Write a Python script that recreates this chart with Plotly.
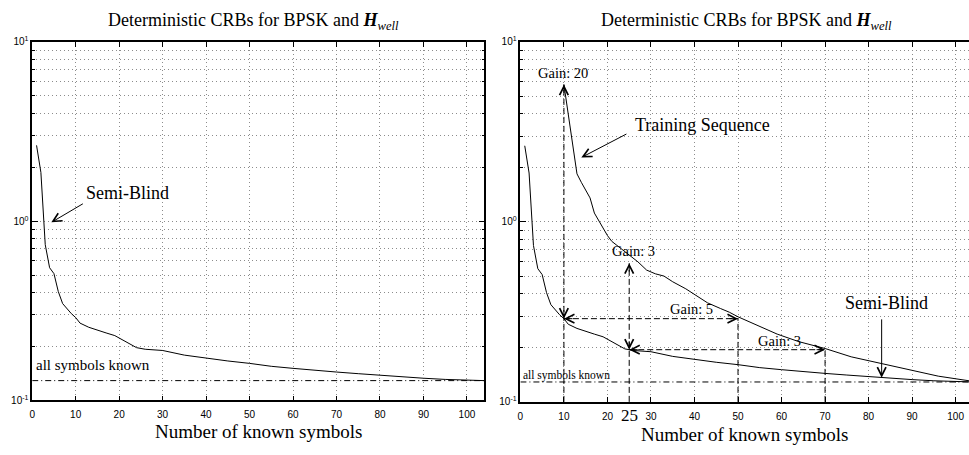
import numpy as np
import plotly.graph_objects as go

# Deterministic CRB, semi-blind estimation, vs number of known symbols
sb_x = [1, 2, 3, 4, 5, 6, 7, 8, 9, 10, 11, 13, 15, 17, 19, 21, 24, 26, 30, 35,
        40, 45, 50, 55, 60, 65, 70, 75, 80, 85, 90, 95, 100, 104]
sb_y = [2.65, 1.87, 0.74, 0.55, 0.51, 0.405, 0.347, 0.325, 0.305, 0.29,
        0.27, 0.256, 0.246, 0.238, 0.23, 0.217, 0.197, 0.193, 0.19, 0.179,
        0.172, 0.166, 0.161, 0.155, 0.151, 0.147, 0.144, 0.141, 0.138, 0.135,
        0.133, 0.131, 0.130, 0.129]

# Deterministic CRB, training sequence only
ts_x = [10, 11, 12, 13, 14, 15, 16, 17, 18, 20, 21, 23, 25, 27, 29, 31, 33, 35,
        38, 40, 43, 46, 48, 50, 54, 59, 64, 70, 76, 83, 90, 96, 104]
ts_y = [5.8, 3.9, 2.6, 1.85, 1.66, 1.5, 1.36, 1.12, 1.02, 0.84,
        0.78, 0.715, 0.65, 0.6, 0.54, 0.515, 0.5, 0.465, 0.425, 0.395,
        0.355, 0.33, 0.315, 0.297, 0.27, 0.238, 0.216, 0.198, 0.178, 0.163,
        0.149, 0.139, 0.13]

# CRB when all symbols are known
all_known = 0.129

x_ticks = [0, 10, 20, 30, 40, 50, 60, 70, 80, 90, 100]
y_ticks = [0.1, 1, 10]
y_ticktext = ["10<sup>-1</sup>", "10<sup>0</sup>", "10<sup>1</sup>"]
y_minor = [m * d for d in (0.1, 1) for m in range(2, 10)]

# gain comparison points
gain20_at = 10
gain5_to = 50
gain3_at = 25
gain3_to = 70
gain3_top = 0.59

W, H = 969, 455
GRID = "#8c8c8c"
GRID_DASH = "1px,3px"
SERIF = "Liberation Serif"
SANS = "Liberation Sans"


def sb(x):
    return float(np.interp(x, sb_x, sb_y))


def ts(x):
    return float(np.interp(x, ts_x, ts_y))


def xaxis(domain, rng):
    return dict(domain=domain, range=rng, showline=True, linecolor="black",
                linewidth=1.5, mirror="allticks", ticks="inside", ticklen=5,
                tickwidth=1, tickcolor="black", tickvals=x_ticks,
                showgrid=True, gridcolor=GRID, griddash=GRID_DASH, gridwidth=1,
                zeroline=False, ticklabelstandoff=4,
                tickfont=dict(family=SANS, size=10, color="black"))


def yaxis(domain, mirror):
    return dict(type="log", domain=domain, range=[-1, 1], showline=True,
                linecolor="black", linewidth=1.5, mirror=mirror,
                ticks="inside", ticklen=6, tickwidth=1, tickcolor="black",
                tickvals=y_ticks, ticktext=y_ticktext,
                showgrid=True, gridcolor=GRID, griddash=GRID_DASH, gridwidth=1,
                minor=dict(tickvals=y_minor, ticks="inside", ticklen=3,
                           tickwidth=1, tickcolor="black", showgrid=True,
                           gridcolor=GRID, griddash=GRID_DASH, gridwidth=1),
                zeroline=False,
                tickfont=dict(family=SANS, size=10, color="black"))


fig = go.Figure()

line = dict(color="black", width=1)
dash = dict(color="black", width=1, dash="6px,3px")
dashdot = dict(color="black", width=1, dash="6px,3px,1px,3px")

# left panel
fig.add_trace(go.Scatter(x=sb_x, y=sb_y, mode="lines", line=line,
                         xaxis="x", yaxis="y"))
fig.add_trace(go.Scatter(x=[0, 104], y=[all_known, all_known], mode="lines",
                         line=dashdot, xaxis="x", yaxis="y"))

# right panel
fig.add_trace(go.Scatter(x=sb_x, y=sb_y, mode="lines", line=line,
                         xaxis="x2", yaxis="y2"))
fig.add_trace(go.Scatter(x=ts_x, y=ts_y, mode="lines", line=line,
                         xaxis="x2", yaxis="y2"))
fig.add_trace(go.Scatter(x=[0, 104], y=[all_known, all_known], mode="lines",
                         line=dashdot, xaxis="x2", yaxis="y2"))

# dashed guide lines for the gain comparisons
guides = [
    ([gain20_at, gain20_at], [0.1, ts(gain20_at)]),
    ([gain3_at, gain3_at], [0.1, gain3_top]),
    ([gain5_to, gain5_to], [0.1, sb(gain20_at)]),
    ([gain3_to, gain3_to], [0.1, sb(gain3_at)]),
    ([gain20_at, gain5_to], [sb(gain20_at), sb(gain20_at)]),
    ([gain3_at, gain3_to], [sb(gain3_at), sb(gain3_at)]),
]
for gx, gy in guides:
    fig.add_trace(go.Scatter(x=gx, y=gy, mode="lines", line=dash,
                             xaxis="x2", yaxis="y2"))

ann = []


def head(x, y, dx, dy):
    ann.append(dict(xref="x2", yref="y2", x=x, y=np.log10(y), ax=dx, ay=dy,
                    axref="pixel", ayref="pixel", text="", showarrow=True,
                    arrowhead=5, arrowsize=1.7, arrowwidth=1,
                    arrowcolor="black", standoff=0))


def pointer(xr, yr, tail, tip):
    ann.append(dict(xref=xr, yref=yr, x=tip[0], y=np.log10(tip[1]),
                    ax=tail[0], ay=np.log10(tail[1]), axref=xr, ayref=yr,
                    text="", showarrow=True, arrowhead=5, arrowsize=1.7,
                    arrowwidth=1, arrowcolor="black", standoff=0))


def label(xr, yr, x, y, text, size, xanchor="center"):
    ann.append(dict(xref=xr, yref=yr, x=x, y=y, text=text, showarrow=False,
                    xanchor=xanchor, yanchor="middle",
                    font=dict(family=SERIF, size=size, color="black")))


# arrow heads on the gain markers
sb10 = sb(gain20_at)
sb25 = sb(gain3_at)
head(gain20_at, ts(gain20_at), 0, 10)
head(gain20_at, sb10, 0, -10)
head(gain20_at, sb10, 10, 0)
head(gain5_to, sb10, -10, 0)
head(gain3_at, sb25, 10, 0)
head(gain3_to, sb25, -10, 0)
head(gain3_at, gain3_top, 0, 10)
head(gain3_at, sb25, 0, -10)

# curve pointers
pointer("x", "y", (12.0, 1.265), (4.4, 0.985))
pointer("x2", "y2", (24.7, 3.11), (14.0, 2.28))
pointer("x2", "y2", (83, 0.293), (83, sb(83)))

# curve and gain labels
label("x", "y", 12.0, 0.156, "Semi-Blind", 18, "left")
label("x", "y", 0.5, -0.805, "all symbols known", 15, "left")
label("x2", "y2", 25.8, 0.541, "Training Sequence", 18, "left")
label("x2", "y2", 84.2, -0.452, "Semi-Blind", 18)
label("x2", "y2", 9.8, 0.826, "Gain: 20", 14.5)
label("x2", "y2", 25.9, -0.161, "Gain: 3", 14.5)
label("x2", "y2", 39.4, -0.484, "Gain: 5", 14.5)
label("x2", "y2", 59.6, -0.663, "Gain: 3", 14.5)
label("x2", "y2", 0.1, -0.853, "all symbols known", 11.5, "left")
label("x2", "paper", gain3_at, 1 - 421 / H, str(gain3_at), 17)

# panel titles and axis titles
title = "Deterministic CRBs for BPSK and <b><i>H</i></b><sub><i>well</i></sub>"
for xr, cx in (("x domain", 0.49), ("x2 domain", 0.505)):
    ann.append(dict(xref=xr, yref="paper", x=cx, y=1 - 15 / H, text=title,
                    showarrow=False, xanchor="center", yanchor="middle",
                    font=dict(family=SERIF, size=18, color="black")))
for xr, cy in (("x domain", 437), ("x2 domain", 440)):
    ann.append(dict(xref=xr, yref="paper", x=0.5, y=1 - cy / H,
                    text="Number of known symbols", showarrow=False,
                    xanchor="center", yanchor="middle",
                    font=dict(family=SERIF, size=19, color="black")))

fig.update_layout(
    width=W, height=H,
    margin=dict(l=0, r=0, t=0, b=0),
    paper_bgcolor="white", plot_bgcolor="white",
    showlegend=False,
    xaxis=xaxis([29.3 / W, 482.8 / W], [0, 104]),
    yaxis=yaxis([1 - 405 / H, 1 - 36 / H], "allticks"),
    xaxis2=xaxis([519 / W, 1.0], [0, (W - 519) / 4.366]),
    yaxis2=yaxis([1 - 406.5 / H, 1 - 36 / H], False),
    annotations=ann,
)
fig.update_layout(yaxis2=dict(anchor="x2"), xaxis2=dict(anchor="y2"))

fig.write_html("out.html")
